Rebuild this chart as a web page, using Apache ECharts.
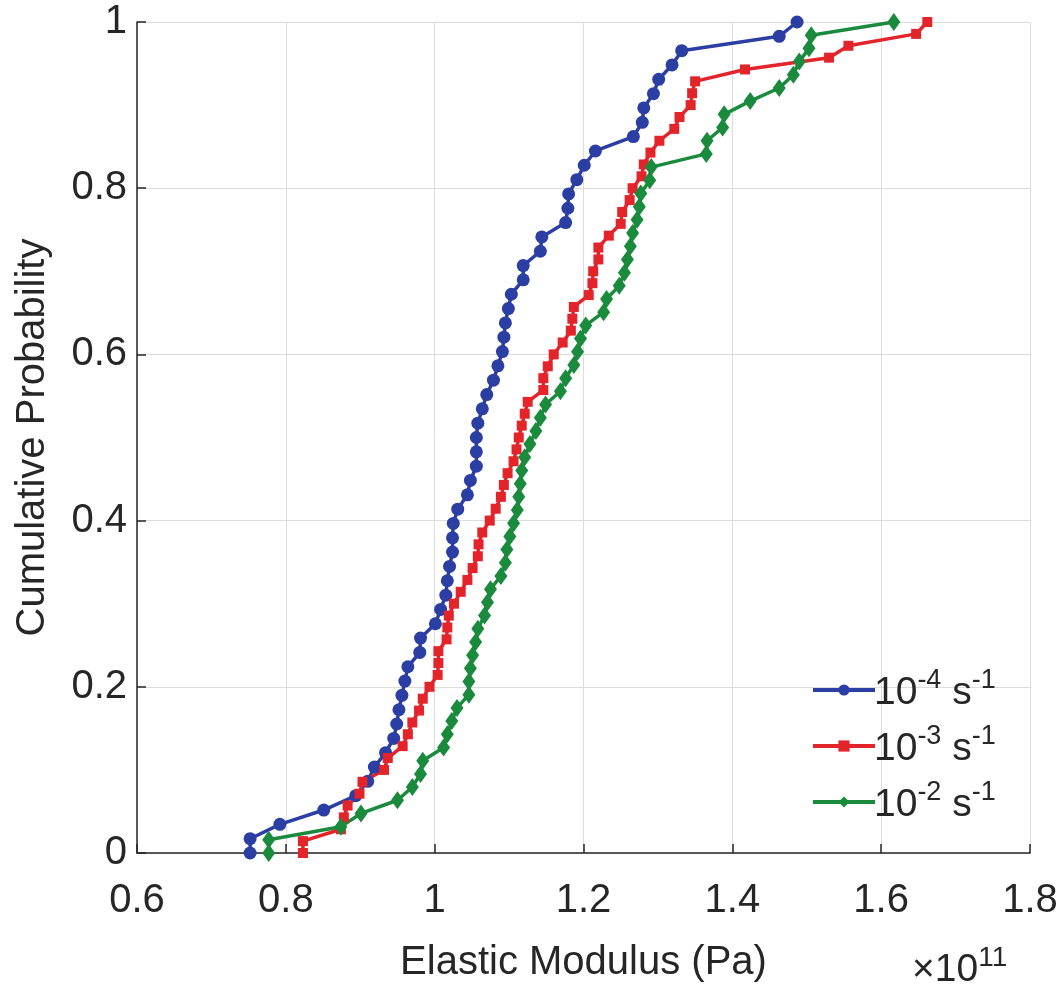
<!DOCTYPE html>
<html>
<head>
<meta charset="utf-8">
<script src="https://cdn.jsdelivr.net/npm/echarts@6/dist/echarts.min.js"></script>
<style>
html,body{margin:0;padding:0;background:#fff;}
#chart{width:1063px;height:988px;}
</style>
</head>
<body>
<div id="chart"></div>
<script>
// Elastic modulus (x 1e11 Pa) and cumulative probability for each strain rate
const seriesNames = ['10^-4 s^-1', '10^-3 s^-1', '10^-2 s^-1'];
const xTicks = [0.6, 0.8, 1, 1.2, 1.4, 1.6, 1.8];
const yTicks = [0, 0.2, 0.4, 0.6, 0.8, 1];

const modulusE4 = [0.752,0.752,0.792,0.851,0.894,0.910,0.919,0.934,0.945,0.949,0.952,0.956,0.960,0.964,0.980,0.981,1.001,1.008,1.015,1.017,1.020,1.024,1.024,1.025,1.031,1.044,1.048,1.056,1.056,1.056,1.058,1.064,1.070,1.079,1.085,1.091,1.093,1.095,1.099,1.103,1.119,1.119,1.142,1.144,1.176,1.179,1.180,1.191,1.201,1.216,1.267,1.279,1.281,1.294,1.301,1.319,1.332,1.463,1.487];
const probE4 = [0,0.0172,0.0345,0.0517,0.069,0.0862,0.1034,0.1207,0.1379,0.1552,0.1724,0.1897,0.2069,0.2241,0.2414,0.2586,0.2759,0.2931,0.3103,0.3276,0.3448,0.3621,0.3793,0.3966,0.4138,0.431,0.4483,0.4655,0.4828,0.5,0.5172,0.5345,0.5517,0.569,0.5862,0.6034,0.6207,0.6379,0.6552,0.6724,0.6897,0.7069,0.7241,0.7414,0.7586,0.7759,0.7931,0.8103,0.8276,0.8448,0.8621,0.8793,0.8966,0.9138,0.931,0.9483,0.9655,0.9828,1];

const modulusE3 = [0.823,0.823,0.874,0.878,0.883,0.899,0.903,0.932,0.937,0.957,0.964,0.970,0.979,0.984,0.993,1.004,1.005,1.005,1.016,1.017,1.019,1.026,1.035,1.044,1.051,1.058,1.059,1.064,1.074,1.082,1.089,1.093,1.098,1.106,1.110,1.113,1.117,1.121,1.125,1.146,1.146,1.152,1.160,1.172,1.183,1.185,1.187,1.207,1.212,1.213,1.220,1.220,1.234,1.250,1.252,1.262,1.266,1.278,1.281,1.290,1.302,1.322,1.329,1.344,1.346,1.350,1.417,1.530,1.556,1.647,1.662];
const probE3 = [0,0.0143,0.0286,0.0429,0.0571,0.0714,0.0857,0.1,0.1143,0.1286,0.1429,0.1571,0.1714,0.1857,0.2,0.2143,0.2286,0.2429,0.2571,0.2714,0.2857,0.3,0.3143,0.3286,0.3429,0.3571,0.3714,0.3857,0.4,0.4143,0.4286,0.4429,0.4571,0.4714,0.4857,0.5,0.5143,0.5286,0.5429,0.5571,0.5714,0.5857,0.6,0.6143,0.6286,0.6429,0.6571,0.6714,0.6857,0.7,0.7143,0.7286,0.7429,0.7571,0.7714,0.7857,0.8,0.8143,0.8286,0.8429,0.8571,0.8714,0.8857,0.9,0.9143,0.9286,0.9429,0.9571,0.9714,0.9857,1];

const modulusE2 = [0.777,0.777,0.874,0.901,0.950,0.970,0.981,0.984,1.012,1.017,1.023,1.030,1.046,1.046,1.048,1.051,1.055,1.058,1.067,1.071,1.075,1.089,1.095,1.097,1.101,1.106,1.111,1.113,1.115,1.117,1.121,1.128,1.136,1.142,1.149,1.169,1.176,1.187,1.192,1.196,1.203,1.227,1.231,1.248,1.255,1.259,1.263,1.266,1.272,1.275,1.277,1.289,1.291,1.365,1.366,1.387,1.389,1.424,1.463,1.482,1.490,1.503,1.506,1.617];
const probE2 = [0,0.0159,0.0317,0.0476,0.0635,0.0794,0.0952,0.1111,0.127,0.1429,0.1587,0.1746,0.1905,0.2063,0.2222,0.2381,0.254,0.2698,0.2857,0.3016,0.3175,0.3333,0.3492,0.3651,0.381,0.3968,0.4127,0.4286,0.4444,0.4603,0.4762,0.4921,0.5079,0.5238,0.5397,0.5556,0.5714,0.5873,0.6032,0.619,0.6349,0.6508,0.6667,0.6825,0.6984,0.7143,0.7302,0.746,0.7619,0.7778,0.7937,0.8095,0.8254,0.8413,0.8571,0.873,0.8889,0.9048,0.9206,0.9365,0.9524,0.9683,0.9841,1];

const FONT = '"Liberation Sans", Arial, Helvetica, sans-serif';
const TXT = '#262626';

function pairs(xs, ps) { return xs.map((x, i) => [x, ps[i]]); }
function fmt(v) { return String(Math.round(v * 10) / 10); }

const chart = echarts.init(document.getElementById('chart'), null, {renderer: 'canvas'});

const legendRich = {
  b: {fontSize: 39, fontFamily: FONT, color: TXT, lineHeight: 46, verticalAlign: 'bottom'},
  s: {fontSize: 27, fontFamily: FONT, color: TXT, lineHeight: 46, verticalAlign: 'top'}
};

const option = {
  animation: false,
  backgroundColor: '#ffffff',
  grid: {left: 137, right: 33, top: 22, bottom: 130, containLabel: false},
  xAxis: {
    type: 'value', min: xTicks[0], max: xTicks[xTicks.length - 1], interval: 0.2,
    name: 'Elastic Modulus (Pa)', nameLocation: 'middle', nameGap: 90,
    nameTextStyle: {fontSize: 40, fontFamily: FONT, color: TXT},
    axisLine: {show: true, onZero: false, lineStyle: {color: TXT, width: 1.5}},
    axisTick: {show: true, inside: true, length: 9, lineStyle: {color: TXT, width: 1.5}},
    axisLabel: {fontSize: 40, fontFamily: FONT, color: TXT, margin: 28, formatter: fmt},
    splitLine: {show: true, lineStyle: {color: '#dcdcdc', width: 1}}
  },
  yAxis: {
    type: 'value', min: yTicks[0], max: yTicks[yTicks.length - 1], interval: 0.2,
    name: 'Cumulative Probability', nameLocation: 'middle', nameGap: 84,
    nameTextStyle: {fontSize: 40, fontFamily: FONT, color: TXT},
    axisLine: {show: true, onZero: false, lineStyle: {color: TXT, width: 1.5}},
    axisTick: {show: true, inside: true, length: 9, lineStyle: {color: TXT, width: 1.5}},
    axisLabel: {fontSize: 40, fontFamily: FONT, color: TXT, margin: 10, formatter: fmt},
    splitLine: {show: true, lineStyle: {color: '#dcdcdc', width: 1}}
  },
  legend: {
    orient: 'vertical', left: 806, top: 662, itemGap: 10,
    itemWidth: 62, itemHeight: 14,
    data: seriesNames,
    lineStyle: {width: 4},
    formatter: function (name) {
      const m = name.match(/^10\^(-\d) s\^(-1)$/);
      return '{b|10}{s|' + m[1] + '}{b| s}{s|' + m[2] + '}';
    },
    textStyle: {rich: legendRich, fontFamily: FONT, color: TXT, padding: [0, 0, 0, -6]}
  },
  graphic: [{
    type: 'text', left: 912, top: 944,
    style: {
      text: '{b|×10}{s|11}',
      rich: {
        b: {fontSize: 39, fontFamily: FONT, fill: TXT, lineHeight: 46, verticalAlign: 'bottom'},
        s: {fontSize: 28, fontFamily: FONT, fill: TXT, lineHeight: 46, verticalAlign: 'top'}
      }
    }
  }],
  series: [
    {
      name: seriesNames[0], type: 'line', data: pairs(modulusE4, probE4),
      symbol: 'circle', symbolSize: 13, showSymbol: true,
      lineStyle: {width: 3.5, color: '#2b3ea3'}, itemStyle: {color: '#2b3ea3'}
    },
    {
      name: seriesNames[1], type: 'line', data: pairs(modulusE3, probE3),
      symbol: 'rect', symbolSize: 10, showSymbol: true,
      lineStyle: {width: 3.5, color: '#e3242b'}, itemStyle: {color: '#e3242b'}
    },
    {
      name: seriesNames[2], type: 'line', data: pairs(modulusE2, probE2),
      symbol: 'diamond', symbolSize: [13, 18], showSymbol: true,
      lineStyle: {width: 3.5, color: '#1a8a3c'}, itemStyle: {color: '#1a8a3c'}
    }
  ]
};
chart.setOption(option);
</script>
</body>
</html>
